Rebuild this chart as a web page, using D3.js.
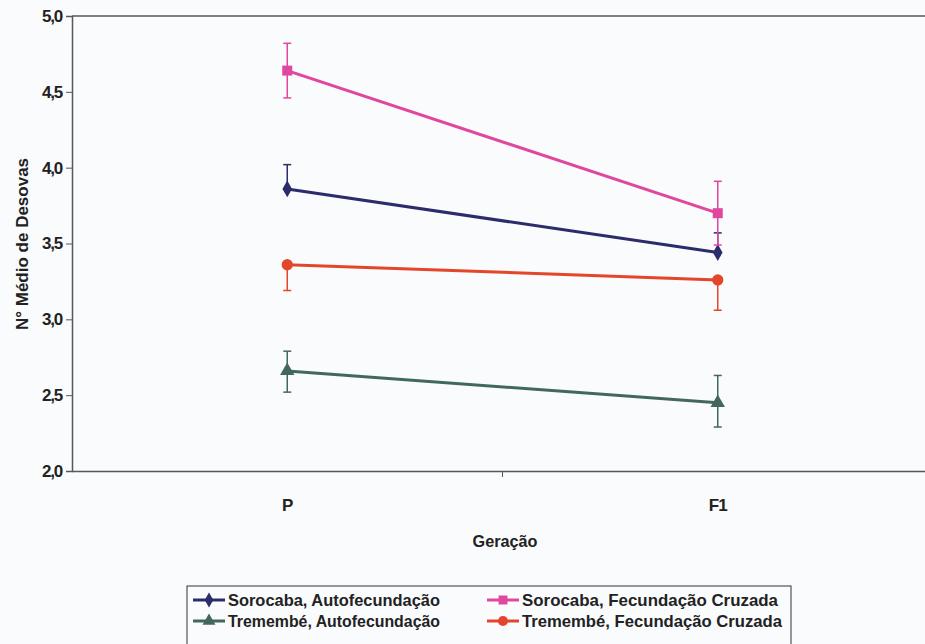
<!DOCTYPE html>
<html><head><meta charset="utf-8">
<script src="https://cdn.jsdelivr.net/npm/d3@7"></script>
<style>
body{margin:0;background:#fafbfd;}
svg{display:block;}
text{font-family:"Liberation Sans",Arial,sans-serif;font-weight:bold;fill:#222;}
</style></head>
<body><svg id="c" width="925" height="644"></svg>
<script>
const categories = ["P", "F1"];
const yTicks = [2.0, 2.5, 3.0, 3.5, 4.0, 4.5, 5.0];
const seriesNames = ["Sorocaba, Autofecundação", "Sorocaba, Fecundação Cruzada", "Tremembé, Autofecundação", "Tremembé, Fecundação Cruzada"];
const sorocabaAuto = [3.86, 3.44];
const sorocabaAutoErrPlus = [0.16, 0.13];
const sorocabaAutoErrMinus = [0, 0];
const sorocabaCruz = [4.64, 3.70];
const sorocabaCruzErrPlus = [0.18, 0.21];
const sorocabaCruzErrMinus = [0.18, 0.21];
const tremembeAuto = [2.66, 2.45];
const tremembeAutoErrPlus = [0.13, 0.18];
const tremembeAutoErrMinus = [0.14, 0.16];
const tremembeCruz = [3.36, 3.26];
const tremembeCruzErrPlus = [0, 0];
const tremembeCruzErrMinus = [0.17, 0.20];

const series = [
  {name: seriesNames[0], values: sorocabaAuto, ep: sorocabaAutoErrPlus, em: sorocabaAutoErrMinus, color: "#2c2b6c", sym: d3.symbolDiamond, size: 80},
  {name: seriesNames[1], values: sorocabaCruz, ep: sorocabaCruzErrPlus, em: sorocabaCruzErrMinus, color: "#e0479f", sym: d3.symbolSquare, size: 100},
  {name: seriesNames[2], values: tremembeAuto, ep: tremembeAutoErrPlus, em: tremembeAutoErrMinus, color: "#42685b", sym: d3.symbolTriangle, size: 90},
  {name: seriesNames[3], values: tremembeCruz, ep: tremembeCruzErrPlus, em: tremembeCruzErrMinus, color: "#e3462b", sym: d3.symbolCircle, size: 100}
];

const svg = d3.select("#c");
const x = d3.scaleBand().domain(categories).range([72, 933]).padding(0);
const y = d3.scaleLinear().domain([2, 5]).range([471, 16]);
const cx = c => x(c) + x.bandwidth() / 2;
const fmt = v => d3.format(".1f")(v).replace(".", ",");

// frame
svg.append("line").attr("x1", 72).attr("x2", 933).attr("y1", y(5)).attr("y2", y(5)).attr("stroke", "#5a5560").attr("stroke-width", 1.5);

const yAxis = svg.append("g").attr("transform", "translate(72,0)")
  .call(d3.axisLeft(y).tickValues(yTicks).tickFormat(fmt).tickSize(6).tickPadding(4));
yAxis.select(".domain").attr("stroke", "#5a5560").attr("stroke-width", 1.5);
yAxis.selectAll(".tick line").attr("stroke", "#5a5560");
yAxis.selectAll("text").attr("font-size", 17).attr("font-family", "Liberation Sans, Arial").attr("font-weight", "bold").attr("fill", "#222").attr("letter-spacing", -1.2);

const xAxis = svg.append("g").attr("transform", `translate(0,${y(2)})`)
  .call(d3.axisBottom(x).tickSize(0).tickPadding(28));
xAxis.select(".domain").attr("stroke", "#5a5560").attr("stroke-width", 1.5);
xAxis.selectAll("text").attr("font-size", 17).attr("font-family", "Liberation Sans, Arial").attr("font-weight", "bold").attr("fill", "#222").attr("letter-spacing", -1);
// category boundary tick
svg.append("line").attr("x1", x("F1")).attr("x2", x("F1")).attr("y1", y(2)).attr("y2", y(2) + 6).attr("stroke", "#5a5560");

svg.append("text").attr("x", 505).attr("y", 547).attr("text-anchor", "middle").attr("font-size", 16)
  .attr("textLength", 65).attr("lengthAdjust", "spacingAndGlyphs").text("Geração");
svg.append("text").attr("transform", "translate(28,244) rotate(-90)").attr("text-anchor", "middle").attr("font-size", 17).text("N° Médio de Desovas");

const line = d3.line().x((d, i) => cx(categories[i])).y(d => y(d));
series.forEach(s => {
  const g = svg.append("g");
  // error bars
  s.values.forEach((v, i) => {
    const px = cx(categories[i]);
    const top = v + s.ep[i], bot = v - s.em[i];
    g.append("line").attr("x1", px).attr("x2", px).attr("y1", y(top)).attr("y2", y(bot)).attr("stroke", s.color).attr("stroke-width", 1.5);
    if (s.ep[i] > 0) g.append("line").attr("x1", px - 4).attr("x2", px + 4).attr("y1", y(top)).attr("y2", y(top)).attr("stroke", s.color).attr("stroke-width", 1.5);
    if (s.em[i] > 0) g.append("line").attr("x1", px - 4).attr("x2", px + 4).attr("y1", y(bot)).attr("y2", y(bot)).attr("stroke", s.color).attr("stroke-width", 1.5);
  });
  g.append("path").attr("d", line(s.values)).attr("fill", "none").attr("stroke", s.color).attr("stroke-width", 3);
  s.values.forEach((v, i) => {
    g.append("path").attr("d", d3.symbol().type(s.sym).size(s.size)())
      .attr("transform", `translate(${cx(categories[i])},${y(v)})`).attr("fill", s.color);
  });
});

// legend
const lg = svg.append("g");
lg.append("rect").attr("x", 187).attr("y", 586).attr("width", 604).attr("height", 70).attr("fill", "#fafbfd").attr("stroke", "#333").attr("stroke-width", 1);
const pos = [[193, 600], [487, 600], [193, 621], [487, 621]];
const textW = [212, 256, 212, 260];
series.forEach((s, i) => {
  const [lx, ly] = pos[i];
  lg.append("line").attr("x1", lx).attr("x2", lx + 32).attr("y1", ly).attr("y2", ly).attr("stroke", s.color).attr("stroke-width", 3);
  lg.append("path").attr("d", d3.symbol().type(s.sym).size(s.size * 0.8)()).attr("transform", `translate(${lx + 16},${ly})`).attr("fill", s.color);
  lg.append("text").attr("x", lx + 35).attr("y", ly + 6).attr("font-size", 17).attr("font-weight", "normal")
    .attr("textLength", textW[i]).attr("lengthAdjust", "spacingAndGlyphs").attr("fill", "#111").text(s.name);
});
</script></body></html>
